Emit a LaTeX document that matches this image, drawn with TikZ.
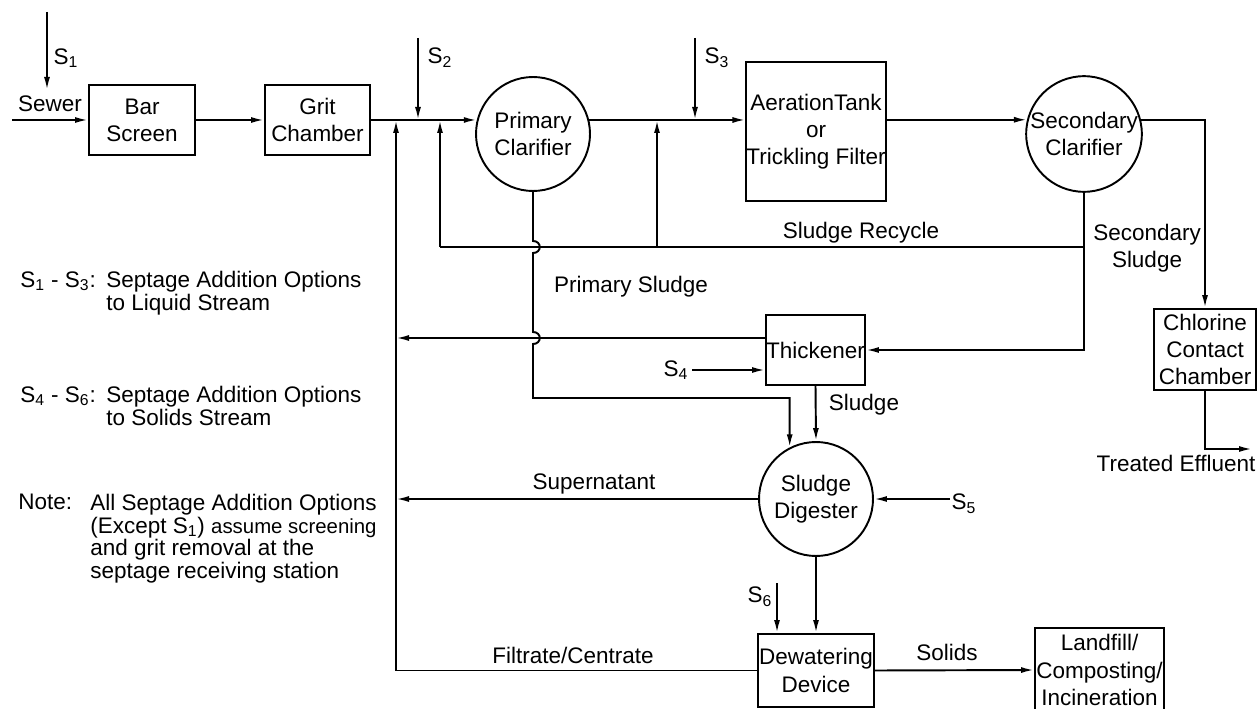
\documentclass[tikz,border=0pt]{standalone}
\usepackage{fontspec}
\setmainfont{Liberation Sans}
\usetikzlibrary{arrows.meta, positioning, calc}

\begin{document}
\begin{tikzpicture}[x=0.02cm, y=-0.02cm,
    font=\fontsize{12.8}{15.5}\selectfont,
    unit/.style={rectangle, draw, line width=1.1pt, align=center, inner sep=1pt},
    tank/.style={circle, draw, line width=1.1pt, minimum size=2.28cm, align=center, inner sep=0pt},
    flow/.style={-{Latex[length=2.6mm, width=1.2mm]}, line width=1.1pt},
    pipe/.style={line width=1.1pt},
    lbl/.style={inner sep=1pt, align=center},
    note/.style={inner sep=0pt, align=left, anchor=north west, font=\fontsize{12.8}{12.8}\selectfont}
]
\useasboundingbox (0,0) rectangle (1257,709);

% liquid stream
\node[unit, minimum width=2.12cm, minimum height=1.4cm] (bar) at (142,120) {Bar\\Screen};
\node[unit, minimum width=2.1cm, minimum height=1.4cm] (grit) at (317.5,120) {Grit\\Chamber};
\node[tank] (pclar) at (533,134) {Primary\\Clarifier};
\node[unit, minimum width=2.76cm, minimum height=2.78cm, inner sep=0pt] (aer) at (816,131.5) {AerationTank\\or\\Trickling Filter};
\node[tank] (sclar) at (1084,134) {Secondary\\Clarifier};
\node[unit, minimum width=2.04cm, minimum height=1.62cm, inner sep=0pt] (chlor) at (1205,349.5) {Chlorine\\Contact\\Chamber};

% solids stream
\node[unit, minimum width=1.98cm, minimum height=1.4cm, inner sep=0pt] (thick) at (815.5,350) {Thickener};
\node[tank] (dig) at (816,499) {Sludge\\Digester};
\node[unit, minimum width=2.32cm, minimum height=1.46cm, inner sep=0pt] (dew) at (816,670.5) {Dewatering\\Device};
\node[unit, minimum width=2.58cm, minimum height=1.68cm, inner sep=0pt] (land) at (1099.5,670) {Landfill/\\Composting/\\Incineration};

% feed points
\coordinate (sewer) at (12,120);
\coordinate (s1) at (47,12);
\coordinate (s1e) at (47,90);
\coordinate (s2) at (418,38);
\coordinate (s3) at (695,38);
\coordinate (s4) at (692,370);
\coordinate (s5) at (950,499);
\coordinate (s6) at (777,583);
\coordinate (ret) at (396,120);
\coordinate (recR) at (1084,247);
\coordinate (recM) at (657,247);
\coordinate (recL) at (440,247);
\coordinate (effl) at (1252,449);

% main line
\draw[flow] (sewer) -- (bar.west);
\draw[flow] (s1) -- (s1e);
\draw[flow] (bar) -- (grit);
\draw[flow] (grit.east) -- (pclar.166);
\draw[flow] (s2) -- (s2 |- grit.east);
\draw[flow] (pclar.14) -- (pclar.14 -| aer.west);
\draw[flow] (s3) -- (s3 |- pclar.14);
\draw[flow] (sclar.166 -| aer.east) -- (sclar.166);
\draw[flow] (sclar.14) -| (chlor.north);
\draw[flow] (chlor.south) |- (effl);

% sludge recycle
\draw[pipe] (sclar.south) -- (recR) -- (recL);
\draw[flow] (recL) -- (recL |- grit.east);
\draw[flow] (recM) -- (recM |- pclar.14);
\draw[flow] (recR) |- (thick.east);

% primary sludge, hopping over the crossings
\draw[flow] (pclar.south) -- (533,241) .. controls (542,241) and (542,253) .. (533,253)
    -- (533,332) .. controls (542,332) and (542,344) .. (533,344)
    -- (533,398) -| (dig.117);

% solids handling
\draw[flow] ([yshift=0.24cm]thick.west) -- ([yshift=0.24cm]thick.west -| ret);
\draw[flow] (s4) -- (s4 -| thick.west);
\draw[flow] (thick.south) -- (dig.north);
\draw[flow] (dig.west) -- (dig.west -| ret);
\draw[flow] (s5) -- (dig.east);
\draw[flow] (dig.south) -- (dew.north);
\draw[flow] (s6) -- (s6 |- dew.north);
\draw[flow] (dew.west) -| (ret);
\draw[flow] (dew.east) -- (land.west);

% labels
\node[lbl] (lsewer) at (50,104) {Sewer};
\node[lbl] (ls1) at (66,58) {S\textsubscript{1}};
\node[lbl] (ls2) at (440,58) {S\textsubscript{2}};
\node[lbl] (ls3) at (717,58) {S\textsubscript{3}};
\node[lbl] (ls4) at (676,370) {S\textsubscript{4}};
\node[lbl] (ls5) at (964,504) {S\textsubscript{5}};
\node[lbl] (ls6) at (760,597) {S\textsubscript{6}};
\node[lbl] (lrec) at (861,233) {Sludge Recycle};
\node[lbl] (lsec) at (1147,248) {Secondary\\Sludge};
\node[lbl] (lprim) at (631,287) {Primary Sludge};
\node[lbl] (lsl) at (864,405) {Sludge};
\node[lbl] (lsup) at (594,484) {Supernatant};
\node[lbl] (lfil) at (573,655) {Filtrate/Centrate};
\node[lbl] (lsol) at (947,652) {Solids};
\node[lbl] (leff) at (1176,463) {Treated Effluent};

% notes
\node[note] (k1) at (20,271) {S\textsubscript{1} - S\textsubscript{3}:};
\node[note] (n1) at (106,271) {Septage Addition Options\\to Liquid Stream};
\node[note] (k2) at (20,386) {S\textsubscript{4} - S\textsubscript{6}:};
\node[note] (n2) at (106,386) {Septage Addition Options\\to Solids Stream};
\node[note] (k3) at (18,494) {Note:};
\node[note] (n3) at (90,494) {All Septage Addition Options\\(Except S\textsubscript{1}) {\fontsize{11.6}{12.8}\selectfont assume screening}\\and grit removal at the\\septage receiving station};

\end{tikzpicture}
\end{document}
